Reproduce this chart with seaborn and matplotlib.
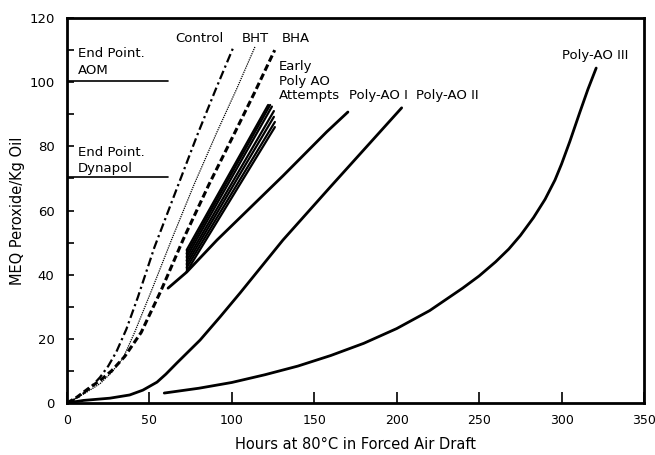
import matplotlib
matplotlib.use("Agg")
import matplotlib.pyplot as plt
import seaborn as sns
import pandas as pd
from matplotlib.ticker import MultipleLocator

# ---- data ----
control_x = [0, 5, 10, 15, 20, 25, 30, 36, 43, 53, 66, 79, 90, 101]
control_y = [0, 1.2, 3, 5.2, 8, 11.5, 16, 23, 33, 48.5, 66, 83.5, 97.5, 111]

bht_x = [0, 5, 12, 20, 27, 34, 41, 52, 63.5, 77, 91, 103, 114]
bht_y = [0, 1.4, 3.4, 6, 9.5, 14, 22, 36, 51, 68, 84.5, 98, 111]

bha_x = [0, 6, 13, 20, 27, 35, 45, 57, 70.5, 86, 102, 114, 126]
bha_y = [0, 1.8, 4.5, 7, 10, 14.5, 22, 35, 51, 68, 84.5, 97, 110]

# Early Poly AO attempts: straight lines (start, end)
early_x0 = [72.6, 72.6, 72.6, 72.6, 72.6, 72.6, 72.6]
early_y0 = [47.7, 46.6, 45.5, 44.4, 43.3, 42.2, 41.0]
early_x1 = [122.0, 123.2, 124.3, 125.5, 125.5, 126.1, 126.1]
early_y1 = [92.9, 92.9, 92.4, 91.0, 89.2, 87.6, 86.0]

polyI_x = [61.3, 72.6, 91, 131, 157.5, 170.4]
polyI_y = [35.8, 40.8, 50.8, 70.8, 84.5, 90.7]

polyII_x = [0, 10, 26, 38, 46, 54.6, 60, 66.7, 80.7, 92.8, 105, 131, 160, 203]
polyII_y = [0, 0.8, 1.5, 2.5, 4, 6.5, 9, 12.5, 19.6, 26.8, 34.3, 50.8, 67.5, 92]

polyIII_x = [59, 80, 100, 120, 140, 160, 180, 200, 220, 240, 250, 260, 268, 275, 283, 290,
             296, 300, 305, 311, 316, 321]
polyIII_y = [3.1, 4.6, 6.4, 8.8, 11.5, 14.8, 18.6, 23.2, 28.8, 35.8, 39.6, 44, 48, 52.2, 57.8,
             63.5, 69.5, 74.5, 81.5, 90.5, 97.8, 104.4]

endpoint_x = [0, 61]
aom_level = 100.5
dynapol_level = 70.5

x_ticks = [0, 50, 100, 150, 200, 250, 300, 350]
y_ticks = [0, 20, 40, 60, 80, 100, 120]

# ---- style ----
sns.set_theme(style="white")
plt.rcParams["font.family"] = ["DejaVu Sans"]
plt.rcParams["axes.linewidth"] = 2.0
for k in ["text.color", "axes.labelcolor", "xtick.color", "ytick.color"]:
    plt.rcParams[k] = "black"

fig = plt.figure(figsize=(6.55, 4.55), dpi=100)
ax = fig.add_axes([0.1023, 0.1143, 0.8809, 0.8461])

def draw(xs, ys, **kw):
    df = pd.DataFrame({"x": xs, "y": ys})
    sns.lineplot(data=df, x="x", y="y", ax=ax, sort=False, estimator=None,
                 color="black", **kw)

draw(control_x, control_y, linewidth=1.6, dashes=(4, 1.6, 1, 1.6))
draw(bht_x, bht_y, linewidth=0.9, dashes=(1, 0.8))
draw(bha_x, bha_y, linewidth=2.2, dashes=(2.2, 1.1))

for x0, y0, x1, y1 in zip(early_x0, early_y0, early_x1, early_y1):
    draw([x0, x1], [y0, y1], linewidth=1.6)
draw([early_x0[0], early_x0[-1]], [early_y0[0], early_y0[-1]], linewidth=1.6)

draw(polyI_x, polyI_y, linewidth=2.0)
draw(polyII_x, polyII_y, linewidth=2.0)
draw(polyIII_x, polyIII_y, linewidth=2.0)

draw(endpoint_x, [aom_level, aom_level], linewidth=1.2)
draw(endpoint_x, [dynapol_level, dynapol_level], linewidth=1.2)

ax.set_xlim(0, 350)
ax.set_ylim(0, 120)
ax.set_xticks(x_ticks)
ax.set_yticks(y_ticks)
ax.yaxis.set_minor_locator(MultipleLocator(10))
ax.tick_params(axis="x", which="major", direction="in", length=8, width=1.2,
               pad=8, labelsize=9, bottom=True)
ax.tick_params(axis="y", which="both", direction="in", length=5, width=1.2,
               pad=9, labelsize=9.5, left=True)
for s in ax.spines.values():
    s.set_linewidth(2.0)
    s.set_color("black")

ax.set_xlabel("Hours at 80°C in Forced Air Draft", fontsize=10.5, labelpad=7)
ax.set_ylabel("MEQ Peroxide/Kg Oil", fontsize=10.5, labelpad=3)

fs = 9.5
ax.text(65.5, 113.5, "Control", fontsize=fs, va="center", ha="left")
ax.text(106, 113.5, "BHT", fontsize=fs, va="center", ha="left")
ax.text(130, 113.5, "BHA", fontsize=fs, va="center", ha="left")
ax.text(6.7, 108.8, "End Point.", fontsize=fs, va="center", ha="left")
ax.text(6.7, 103.5, "AOM", fontsize=fs, va="center", ha="left")
ax.text(6.7, 78.0, "End Point.", fontsize=fs, va="center", ha="left")
ax.text(6.7, 73.2, "Dynapol", fontsize=fs, va="center", ha="left")
ax.text(128.6, 104.8, "Early", fontsize=fs, va="center", ha="left")
ax.text(128.6, 100.2, "Poly AO", fontsize=fs, va="center", ha="left")
ax.text(128.6, 95.7, "Attempts", fontsize=fs, va="center", ha="left")
ax.text(171, 95.7, "Poly-AO I", fontsize=fs, va="center", ha="left")
ax.text(211.5, 95.7, "Poly-AO II", fontsize=fs, va="center", ha="left")
ax.text(300, 108.3, "Poly-AO III", fontsize=fs, va="center", ha="left")

fig.savefig("out.png", dpi=100)
